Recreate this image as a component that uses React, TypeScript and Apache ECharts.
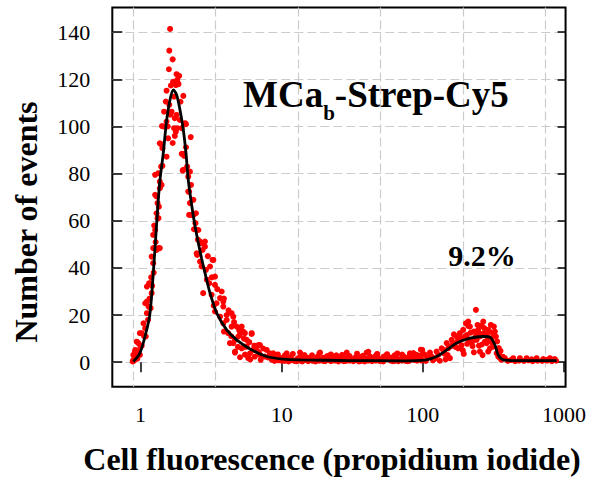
import React, { useEffect, useRef } from 'react';
import * as echarts from 'echarts';

// Axis ticks / labels
const xTickValues = [1, 10, 100, 1000];
const yTickValues = [0, 20, 40, 60, 80, 100, 120, 140];
const xGridValues = [0.889, 3.41, 13.05, 50.1, 192.3, 738.5];

// Events: [fluorescence, count]
const g1PeakEvents: [number, number][] = [
  [0.88, 0.3], [0.89, 1.0], [0.9, 0.6], [0.89, 3.1], [0.93, 2.4], [0.95, 1.5], [0.914, 4.5], [0.92, 5.2],
  [0.94, 3.1], [0.97, 4.5], [0.99, 3.1], [0.965, 8.1], [0.94, 8.7], [1.0, 6.6], [1.02, 7.0], [1.02, 12.3],
  [0.99, 12.3], [1.06, 11.0], [1.09, 10.9], [1.08, 14.4], [1.05, 16.5], [1.13, 18.0], [1.11, 20.8], [1.18, 22.9],
  [1.14, 23.6], [1.08, 25.0], [1.11, 25.7], [1.16, 27.0], [1.2, 29.3], [1.11, 32.1], [1.21, 32.4], [1.17, 33.5],
  [1.15, 33.5], [1.19, 36.0], [1.24, 38.0], [1.23, 42.0], [1.2, 44.8], [1.3, 47.6], [1.34, 48.4], [1.23, 48.4],
  [1.37, 48.4], [1.28, 51.0], [1.23, 54.0], [1.27, 56.1], [1.25, 58.0], [1.32, 61.1], [1.34, 61.1], [1.3, 63.2],
  [1.35, 66.0], [1.32, 67.5], [1.3, 70.3], [1.27, 71.0], [1.37, 73.8], [1.41, 75.2], [1.37, 76.6], [1.27, 79.5],
  [1.34, 80.2], [1.4, 83.0], [1.43, 83.3], [1.53, 87.2], [1.43, 90.8], [1.39, 92.6], [1.37, 92.9], [1.57, 95.0],
  [1.69, 93.0], [1.75, 96.0], [1.78, 97.8], [1.73, 99.3], [1.82, 99.3], [1.96, 99.3], [1.45, 100.0], [1.56, 100.0],
  [1.42, 100.2], [2.1, 101.0], [2.07, 101.4], [1.53, 102.1], [1.9, 102.8], [1.75, 103.5], [1.8, 104.9], [1.63, 105.0],
  [1.47, 106.3], [1.66, 106.3], [1.6, 109.2], [1.51, 110.6], [1.92, 110.5], [1.73, 112.7], [2.01, 113.0], [1.53, 115.2],
  [1.64, 117.4], [1.78, 117.6], [1.86, 118.0], [1.83, 118.6], [1.7, 119.0], [1.82, 119.8], [1.88, 121.5], [1.8, 122.2],
  [1.59, 124.3], [1.69, 128.5], [1.6, 132.2], [1.62, 141.4],
  [2.27, 95.5], [2.1, 91.2], [1.96, 88.4], [2.04, 87.5], [2.04, 88.4], [2.14, 83.0], [2.01, 81.6], [1.99, 81.3],
  [2.24, 80.9], [2.18, 78.7], [2.28, 75.2], [2.18, 72.4], [2.21, 72.4], [2.37, 68.9], [2.24, 67.5], [2.21, 62.5],
  [2.3, 62.5], [2.37, 62.5], [2.47, 63.2], [2.39, 56.4], [2.5, 56.1], [2.57, 56.1], [2.64, 51.2], [2.86, 51.2],
  [2.64, 50.7], [2.71, 50.5], [2.86, 49.0], [2.75, 47.6], [2.5, 46.2], [2.52, 45.5], [2.64, 42.7], [3.24, 43.4],
  [3.28, 43.4], [3.11, 40.6], [2.71, 40.6], [2.91, 39.2], [3.37, 36.3], [3.07, 33.5], [3.37, 32.8], [3.76, 30.0],
  [2.78, 29.3], [3.19, 28.6], [3.66, 27.2], [3.86, 25.7], [3.46, 25.0], [3.86, 23.6], [3.37, 21.5], [4.42, 20.8],
  [4.08, 20.0], [3.66, 19.3], [4.54, 19.3], [4.08, 17.9], [3.86, 16.5], [4.42, 15.1], [4.8, 15.1], [5.21, 15.1],
  [5.35, 13.0], [6.13, 12.3], [4.18, 12.3], [5.49, 12.3], [6.13, 12.0], [5.06, 11.6], [4.93, 10.9], [4.67, 9.5],
  [5.65, 9.5], [4.3, 8.1], [4.54, 8.1], [7.02, 7.3], [6.83, 7.3], [5.65, 6.6], [5.49, 6.6], [5.21, 5.9],
  [6.65, 5.2], [6.28, 5.2], [7.83, 5.2], [4.67, 4.5], [4.67, 4.1], [5.97, 3.8], [8.72, 3.8], [8.26, 3.8],
  [7.02, 3.1], [8.26, 3.1], [6.46, 2.4], [7.6, 2.4], [9.2, 2.4], [5.07, 2.1], [5.8, 1.7], [9.96, 1.7],
  [3.2, 36.0], [3.5, 31.0], [3.9, 27.0], [4.2, 22.0], [4.6, 17.0], [5.0, 13.5], [5.4, 10.0], [5.9, 8.5],
  [6.4, 7.0], [6.9, 4.2], [7.4, 5.8], [8.0, 2.0], [4.4, 11.0], [3.9, 13.0], [3.3, 24.0], [2.95, 35.0],
  [2.55, 52.0], [2.45, 59.0], [3.0, 45.0], [4.9, 6.5], [5.5, 3.2], [6.0, 1.2], [7.1, 1.0], [8.5, 1.1], [9.5, 0.8],
];

const plateauEvents: [number, number][] = [
  [8.6, 2.9], [8.9, 0.5], [9.1, 1.2], [9.4, 3.3], [9.6, 2.0], [10.0, 0.6], [10.5, 2.8], [10.5, 0.5],
  [10.85, 3.8], [11.2, 1.6], [11.2, 0.3], [12.0, 3.5], [12.0, 0.8], [12.8, 1.2], [12.8, 0.4], [13.5, 4.1],
  [13.6, 2.4], [13.6, 0.6], [14.5, 0.9], [14.5, 3.0], [15.4, 1.8], [15.4, 0.4], [16.4, 2.9], [16.4, 0.7],
  [17.4, 1.1], [17.4, 0.3], [18.5, 3.8], [18.5, 0.6], [18.7, 4.1], [19.7, 1.9], [19.7, 0.5], [21.0, 1.0],
  [21.0, 2.6], [22.3, 3.3], [22.3, 0.4], [23.2, 2.4], [23.7, 1.5], [23.7, 0.7], [25.2, 2.2], [25.2, 0.3],
  [26.8, 0.8], [26.8, 3.1], [28.5, 1.7], [28.5, 0.5], [28.9, 4.1], [30.3, 2.6], [30.3, 0.6], [32.2, 1.2],
  [32.2, 0.4], [34.2, 3.6], [34.2, 0.8], [36.4, 2.0], [36.4, 0.5], [38.7, 1.1], [38.7, 0.3], [40.0, 4.1],
  [41.1, 4.4], [41.1, 0.7], [43.7, 1.6], [43.7, 0.4], [46.5, 2.8], [46.5, 0.6], [47.5, 3.5], [49.4, 1.0],
  [49.4, 0.5], [52.5, 2.3], [52.5, 0.3], [55.8, 1.4], [55.8, 3.4], [59.3, 0.7], [59.3, 2.0], [63.1, 2.9],
  [63.1, 0.5], [66.0, 3.7], [67.1, 1.3], [67.1, 0.4], [71.3, 3.2], [71.3, 0.7], [75.8, 1.8], [75.8, 0.5],
  [78.0, 1.2], [80.6, 2.5], [80.6, 0.6], [81.0, 3.8], [85.0, 2.5], [85.7, 1.2], [85.7, 3.9], [90.4, 3.1],
  [91.1, 2.2], [91.1, 0.6], [92.0, 1.5], [96.8, 5.3], [96.8, 1.5], [99.0, 5.2],
  [10.2, 1.4], [10.9, 0.9], [11.6, 2.2], [12.4, 0.5], [13.1, 1.7], [14.0, 0.3], [14.9, 2.1], [15.9, 1.0],
  [16.9, 0.5], [17.9, 2.3], [19.1, 1.3], [20.3, 0.4], [21.6, 1.8], [22.9, 0.9], [24.4, 2.9], [25.9, 1.3],
  [27.6, 0.4], [29.4, 2.2], [31.2, 0.9], [33.2, 1.9], [35.3, 0.3], [37.5, 2.7], [39.9, 1.6], [42.4, 2.4],
  [45.1, 0.9], [48.0, 1.9], [51.0, 0.6], [54.1, 2.6], [57.5, 1.2], [61.2, 0.4], [65.0, 1.9], [69.1, 0.9],
  [73.5, 2.4], [78.2, 0.4], [83.1, 1.6], [88.3, 0.9], [93.9, 2.7], [98.0, 0.7],
];

const g2PeakEvents: [number, number][] = [
  [100.0, 3.8], [103.5, 3.1], [105.0, 0.5], [112.3, 4.1], [115.4, 2.4], [118.0, 0.8], [125.2, 4.5], [128.6, 3.1],
  [132.0, 0.6], [136.0, 5.9], [139.5, 5.2], [145.0, 1.2], [147.5, 8.1], [151.3, 5.9], [155.6, 1.7], [160.0, 9.5],
  [164.2, 8.1], [170.0, 6.5], [173.5, 10.9], [178.1, 5.9], [183.1, 12.3], [188.0, 7.2], [193.2, 13.7], [195.0, 3.5],
  [198.7, 10.9], [202.0, 16.5], [205.0, 11.5], [209.7, 17.2], [209.7, 15.4], [213.2, 9.5], [215.6, 15.1], [221.6, 8.1],
  [225.0, 6.8], [230.0, 13.0], [230.0, 4.2], [235.0, 10.5], [237.7, 22.2], [240.4, 12.3], [240.4, 9.5], [246.7, 13.7],
  [253.7, 10.9], [253.7, 4.5], [260.9, 15.4], [262.0, 7.5], [265.0, 3.0], [267.8, 17.2], [270.9, 12.3], [275.3, 8.7],
  [280.0, 11.5], [283.0, 8.1], [290.5, 13.7], [290.5, 4.5], [298.7, 5.9], [300.0, 12.8], [307.0, 10.2], [310.0, 8.3],
  [315.0, 6.6], [318.8, 15.1], [324.0, 13.0], [329.4, 10.9], [333.3, 3.8], [342.0, 2.4], [345.0, 6.0], [347.5, 3.8],
  [355.0, 4.8], [360.0, 1.0], [381.5, 1.7], [400.0, 0.5], [420.0, 0.9], [436.8, 1.7], [450.0, 0.4], [480.0, 0.7],
  [487.0, 1.7], [520.0, 0.5], [543.5, 1.7], [560.0, 0.8], [590.0, 1.2], [600.0, 0.4], [640.0, 1.7], [650.0, 0.6],
  [700.0, 0.5], [712.3, 1.3], [740.0, 1.0], [760.0, 0.7], [794.6, 1.7], [820.0, 0.4], [838.0, 1.0], [860.0, 1.3],
  [880.0, 0.6],
  [150.0, 3.0], [158.0, 6.8], [166.0, 11.8], [176.0, 8.8], [186.0, 10.2], [192.0, 5.0], [206.0, 7.8], [218.0, 12.5],
  [228.0, 9.2], [244.0, 15.8], [250.0, 7.0], [257.0, 12.0], [272.0, 14.5], [286.0, 10.8], [295.0, 9.0], [303.0, 15.8],
  [320.0, 11.8], [336.0, 8.8], [352.0, 1.8], [370.0, 2.3], [108.0, 1.8], [122.0, 1.5], [142.0, 3.6],
];

// Fitted curve
const fitCurve: [number, number][] = [
  [0.89, 0.3], [0.99, 3.8], [1.106, 13.7], [1.168, 20.8], [1.232, 37.8], [1.288, 54.7], [1.337, 68.9],
  [1.374, 77.3], [1.45, 88.7], [1.533, 102.8], [1.618, 111.3], [1.707, 115.5], [1.804, 113.4], [1.905, 107.0],
  [2.01, 98.6], [2.1, 88.7], [2.18, 77.3], [2.3, 67.0], [2.43, 58.0], [2.57, 50.5], [2.71, 44.0], [2.86, 38.0],
  [3.11, 29.3], [3.47, 20.8], [4.08, 13.7], [4.8, 9.5], [5.97, 5.6], [7.83, 2.4], [10.3, 1.3], [13.5, 1.0],
  [30.0, 0.7], [69.0, 0.6], [106.0, 1.0], [125.0, 2.4], [148.0, 5.2], [174.0, 8.1], [216.0, 10.2], [268.0, 10.9],
  [299.0, 10.6], [324.0, 7.3], [342.0, 3.1], [371.0, 1.0], [462.0, 0.7], [887.0, 0.7],
];

const FONT = 'Liberation Serif';
const X_MIN = 0.6314;
const X_MAX = 1026;
const Y_MIN = -10.4;
const Y_MAX = 150.5;

const gridLineStyle = { color: '#cccccc', width: 1.2, type: [9, 4] as number[] };

export default function App() {
  const ref = useRef<HTMLDivElement>(null);

  useEffect(() => {
    if (!ref.current) return;
    const chart = echarts.init(ref.current, null, { renderer: 'svg' });
    chart.setOption({
      animation: false,
      backgroundColor: '#ffffff',
      textStyle: { fontFamily: FONT },
      grid: {
        left: 112.3,
        right: 23.3,
        top: 7.5,
        bottom: 93.3,
        show: true,
        borderColor: '#000',
        borderWidth: 2,
        backgroundColor: 'transparent',
        containLabel: false,
      },
      xAxis: [
        {
          type: 'log',
          logBase: 10,
          min: X_MIN,
          max: X_MAX,
          position: 'bottom',
          axisLine: { show: false },
          axisTick: {
            show: true,
            inside: false,
            length: 10,
            lineStyle: { color: '#000', width: 1.5 },
            customValues: xTickValues,
          },
          axisLabel: {
            customValues: xTickValues,
            fontFamily: FONT,
            fontSize: 22,
            color: '#000',
            margin: 17,
            formatter: (v: number) => String(Math.round(v)),
          },
          splitLine: { show: false },
          minorTick: { show: false },
        },
        {
          type: 'log',
          logBase: 10,
          min: X_MIN,
          max: X_MAX,
          position: 'top',
          axisLine: { show: false },
          axisTick: { show: false, customValues: xGridValues },
          axisLabel: { show: false },
          splitLine: { show: true, lineStyle: gridLineStyle },
        },
      ],
      yAxis: [
        {
          type: 'value',
          min: Y_MIN,
          max: Y_MAX,
          position: 'left',
          axisLine: { show: false },
          axisTick: {
            show: true,
            inside: true,
            length: 10,
            lineStyle: { color: '#000', width: 1.5 },
            customValues: yTickValues,
          },
          axisLabel: {
            customValues: yTickValues,
            fontFamily: FONT,
            fontSize: 22,
            color: '#000',
            margin: 22,
          },
          splitLine: { show: true, lineStyle: gridLineStyle },
        },
        {
          type: 'value',
          min: Y_MIN,
          max: Y_MAX,
          position: 'right',
          axisLine: { show: false },
          axisTick: {
            show: true,
            inside: true,
            length: 8,
            lineStyle: { color: '#000', width: 1.5 },
            customValues: yTickValues,
          },
          axisLabel: { show: false },
          splitLine: { show: false },
        },
      ],
      series: [
        {
          type: 'scatter',
          xAxisIndex: 0,
          yAxisIndex: 0,
          data: [...g1PeakEvents, ...plateauEvents, ...g2PeakEvents],
          symbol: 'circle',
          symbolSize: 6,
          itemStyle: { color: '#ff0000', opacity: 1 },
          z: 2,
        },
        {
          type: 'line',
          xAxisIndex: 0,
          yAxisIndex: 0,
          data: fitCurve,
          smooth: 0.3,
          showSymbol: false,
          symbol: 'none',
          lineStyle: { color: '#000', width: 2.8 },
          z: 3,
        },
      ],
      graphic: [
        {
          type: 'text',
          left: 243,
          top: 75.8,
          z: 10,
          style: {
            text: '{m|MCa}{s|b}{m|-Strep-Cy5}',
            rich: {
              m: {
                fontFamily: FONT,
                fontWeight: 'bold',
                fontSize: 37,
                lineHeight: 40,
                verticalAlign: 'top',
                fill: '#000',
              },
              s: {
                fontFamily: FONT,
                fontWeight: 'bold',
                fontSize: 21,
                lineHeight: 21,
                padding: [27, 0, 0, 0],
                verticalAlign: 'top',
                fill: '#000',
              },
            },
          },
        },
        {
          type: 'text',
          x: 448.3,
          y: 255.9,
          z: 10,
          style: {
            text: '9.2%',
            fontFamily: FONT,
            fontWeight: 'bold',
            fontSize: 30,
            fill: '#000',
            align: 'left',
            verticalAlign: 'middle',
          },
        },
        {
          type: 'text',
          x: 26,
          y: 222,
          rotation: Math.PI / 2,
          z: 10,
          style: {
            text: 'Number of events',
            fontFamily: FONT,
            fontWeight: 'bold',
            fontSize: 32,
            fill: '#000',
            align: 'center',
            verticalAlign: 'middle',
          },
        },
        {
          type: 'text',
          x: 332,
          y: 459,
          z: 10,
          style: {
            text: 'Cell fluorescence (propidium iodide)',
            fontFamily: FONT,
            fontWeight: 'bold',
            fontSize: 32,
            fill: '#000',
            align: 'center',
            verticalAlign: 'middle',
          },
        },
      ],
    });
    return () => chart.dispose();
  }, []);

  return (
    <div
      ref={ref}
      style={{ position: 'fixed', left: 0, top: 0, width: 589, height: 480, background: '#fff' }}
    />
  );
}
